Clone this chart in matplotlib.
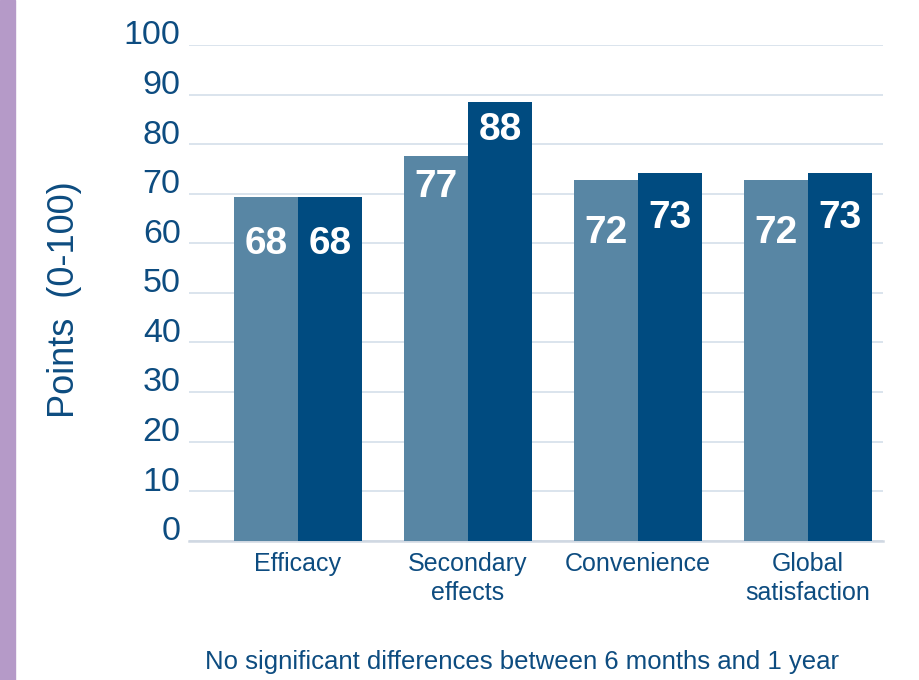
import numpy as np
import matplotlib
matplotlib.use('Agg')
import matplotlib.pyplot as plt
import matplotlib.transforms as mtransforms
from matplotlib.patches import Rectangle

plt.rcParams['font.family'] = ['Liberation Sans', 'DejaVu Sans']

# Daten
categories = ['Efficacy', 'Secondary\neffects', 'Convenience', 'Global\nsatisfaction']
months6 = [69.4, 77.6, 72.8, 72.8]      # Balkenhoehe hell
year1 = [69.4, 88.5, 74.2, 74.2]        # Balkenhoehe dunkel
labels6 = ['68', '77', '72', '72']
labels1 = ['68', '88', '73', '73']

light = '#5886a4'
dark = '#004b80'
text_col = '#0d4c80'
grid_col = '#d8e2ec'

fig = plt.figure(figsize=(9.19, 6.8), dpi=100)
fig.patches.append(Rectangle((0, 0), 15/919, 1, transform=fig.transFigure,
                             color='#b59ac8', zorder=0))
ax = fig.add_axes([189/919, 1-540.7/680, 694/919, 495.7/680])

x = np.arange(len(categories))
w = 64/170
ax.bar(x - w/2, months6, w, color=light, zorder=3)
ax.bar(x + w/2, year1, w, color=dark, zorder=3)

# Wertbeschriftung (Abstand unter Balkenoberkante, in Punkten der y-Achse)
drop6 = [9.6, 6.3, 10.7, 10.7]
drop1 = [9.6, 5.6, 9.1, 9.1]
for i in range(len(categories)):
    ax.text(x[i] - w/2, months6[i] - drop6[i], labels6[i], ha='center', va='center',
            color='white', fontsize=28, fontweight='bold', zorder=4)
    ax.text(x[i] + w/2, year1[i] - drop1[i], labels1[i], ha='center', va='center',
            color='white', fontsize=28, fontweight='bold', zorder=4)

ax.set_xlim(-0.641, 3.441)
ax.set_ylim(0, 100)
ax.set_yticks(np.arange(0, 101, 10))
ax.yaxis.grid(True, color=grid_col, linewidth=1.3, zorder=0)
ax.set_axisbelow(True)
for s in ['top', 'right', 'left']:
    ax.spines[s].set_visible(False)
ax.spines['bottom'].set_color('#d0d8e2')
ax.spines['bottom'].set_linewidth(1.8)
ax.tick_params(axis='y', length=0, pad=6, labelsize=24.5, labelcolor=text_col)
ax.tick_params(axis='x', length=0, pad=8, labelsize=18, labelcolor=text_col)
ax.set_xticks(x)
ax.set_xticklabels(categories, linespacing=1.25)
shift = mtransforms.ScaledTranslation(0, 9/100, fig.dpi_scale_trans)
for t in ax.get_yticklabels():
    t.set_va('center')
    t.set_transform(t.get_transform() + shift)

fig.text(65/919, 1-300/680, 'Points  (0-100)', rotation=90, ha='center', va='center',
         fontsize=26, color=text_col)
fig.text(522/919, 1-662/680, 'No significant differences between 6 months and 1 year',
         ha='center', va='center', fontsize=18.5, color=text_col)

fig.savefig('out.png', dpi=100)
